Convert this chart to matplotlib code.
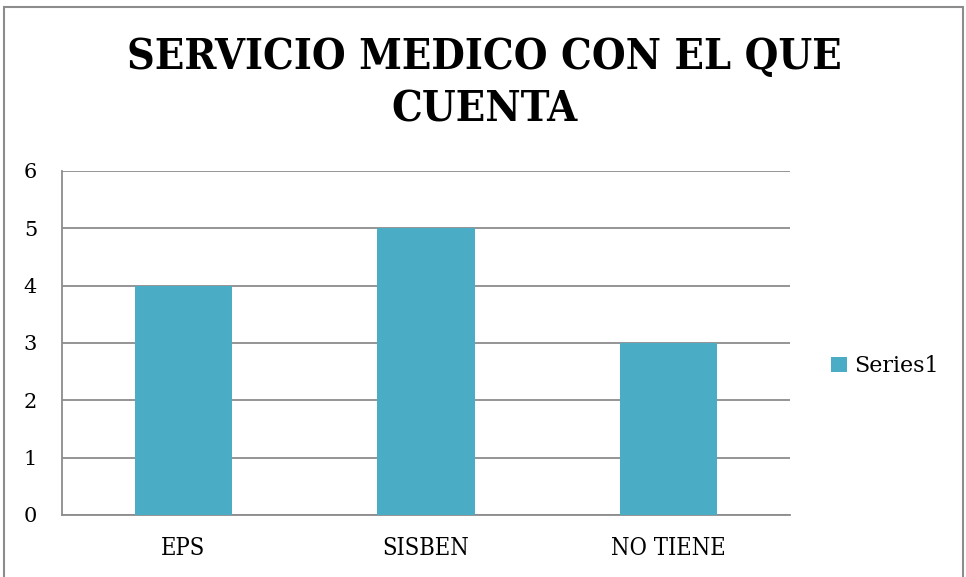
import matplotlib

matplotlib.use("Agg")
import matplotlib.pyplot as plt
from matplotlib.patches import Rectangle

# 数据
categories = ["EPS", "SISBEN", "NO TIENE"]
values = [4, 5, 3]
series_name = "Series1"
title_lines = ["SERVICIO MEDICO CON EL QUE", "CUENTA"]
y_ticks = [0, 1, 2, 3, 4, 5, 6]

BAR = "#4BACC6"
GRID = "#8C8C8C"

plt.rcParams["font.family"] = ["DejaVu Serif"]

fig = plt.figure(figsize=(9.66, 5.77), dpi=100)
ax = fig.add_axes([0.0642, 0.1075, 0.7536, 0.5962])

x = range(len(categories))
ax.bar(x, values, width=0.4, color=BAR, label=series_name, zorder=3)
ax.set_xlim(-0.5, len(categories) - 0.5)
ax.set_ylim(0, 6)
ax.set_yticks(y_ticks)
ax.set_xticks(list(x))
ax.set_xticklabels(categories, fontsize=17, fontstretch="condensed")
ax.tick_params(axis="y", labelsize=15, length=0, pad=18)
ax.tick_params(axis="x", length=0, pad=16)
ax.yaxis.grid(True, color=GRID, linewidth=1.3, zorder=0)
for s in ["top", "right"]:
    ax.spines[s].set_visible(False)
for s in ["left", "bottom"]:
    ax.spines[s].set_color(GRID)
    ax.spines[s].set_linewidth(1.3)

# 标题两行
for i, line in enumerate(title_lines):
    fig.text(0.501, 1 - (57 + i * 52) / 577, line, ha="center", va="center",
             fontsize=31, fontweight="bold", fontstretch="condensed")

fig.legend(loc="center left", bbox_to_anchor=(0.84, 0.365), frameon=False,
           fontsize=16, handlelength=0.7, handleheight=0.7, handletextpad=0.3)

# 外框
fig.patches.append(Rectangle((4 / 966, -0.05), 959 / 966, 1 - 7 / 577 + 0.05,
                             transform=fig.transFigure, fill=False,
                             edgecolor=GRID, linewidth=1.5))

fig.savefig("out.png", dpi=100)
